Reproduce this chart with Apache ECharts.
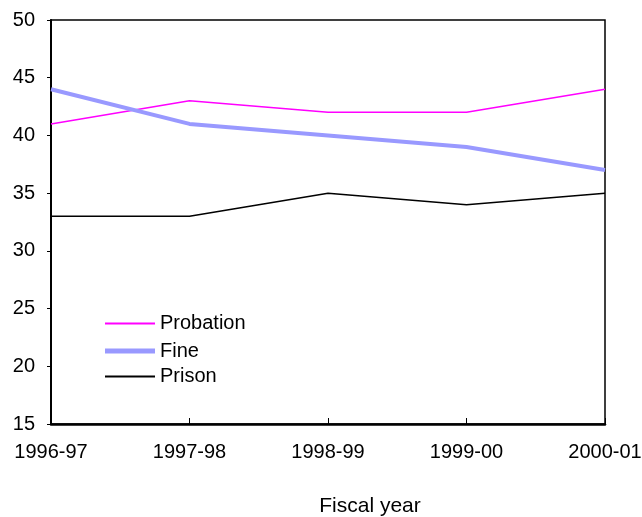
<!DOCTYPE html>
<html><head><meta charset="utf-8">
<script src="https://cdn.jsdelivr.net/npm/echarts@6/dist/echarts.min.js"></script>
<style>html,body{margin:0;padding:0;background:#fff}#c{width:642px;height:517px}</style>
</head><body><div id="c"></div>
<script>
const categories = ['1996-97','1997-98','1998-99','1999-00','2000-01'];
const probation = [41, 43, 42, 42, 44];
const fine = [44, 41, 40, 39, 37];
const prison = [33, 33, 35, 34, 35];
const yTicks = {min: 15, max: 50, interval: 5};
const seriesNames = ['Probation', 'Fine', 'Prison'];
const xTitle = 'Fiscal year';

const font = 'Liberation Sans, Arial, sans-serif';
const legendTops = [313.5, 341, 366.5];
const legendHeights = [2, 5, 2];
const chart = echarts.init(document.getElementById('c'), null, {renderer: 'canvas'});
chart.setOption({
  animation: false,
  backgroundColor: '#fff',
  title: {text: xTitle, left: 370, top: 496, textAlign: 'center', padding: 0,
    textStyle: {fontFamily: font, fontSize: 21, fontWeight: 'normal', color: '#000'}},
  grid: {left: 51, right: 37, top: 20, bottom: 93, outerBoundsMode: 'none', containLabel: false,
    show: true, borderColor: '#000', borderWidth: 1.5, backgroundColor: 'transparent'},
  legend: seriesNames.map((n, i) => ({
    orient: 'vertical', left: 105, top: legendTops[i], padding: 0, itemWidth: 50, itemHeight: legendHeights[i],
    icon: 'rect', textStyle: {fontFamily: font, fontSize: 20, color: '#000'},
    data: [n], selectedMode: false
  })),
  xAxis: {
    type: 'category', data: categories, boundaryGap: false,
    axisLine: {lineStyle: {color: '#000', width: 2.5}},
    axisTick: {inside: true, length: 6, lineStyle: {color: '#000', width: 1}},
    axisLabel: {fontFamily: font, fontSize: 20, color: '#000', margin: 18, interval: 0},
    splitLine: {show: false}
  },
  yAxis: {
    type: 'value', min: yTicks.min, max: yTicks.max, interval: yTicks.interval,
    axisLine: {show: true, lineStyle: {color: '#000', width: 2}},
    axisTick: {show: true, length: 4, lineStyle: {color: '#000', width: 1}},
    axisLabel: {fontFamily: font, fontSize: 20, color: '#000', margin: 16},
    splitLine: {show: false}
  },
  series: [
    {name: seriesNames[0], type: 'line', data: probation, symbol: 'none', color: '#FF00FF', lineStyle: {width: 1.5, color: '#FF00FF'}},
    {name: seriesNames[1], type: 'line', data: fine, symbol: 'none', color: '#9999FF', lineStyle: {width: 4, color: '#9999FF'}},
    {name: seriesNames[2], type: 'line', data: prison, symbol: 'none', color: '#000', lineStyle: {width: 1.5, color: '#000'}}
  ]
});
</script></body></html>
